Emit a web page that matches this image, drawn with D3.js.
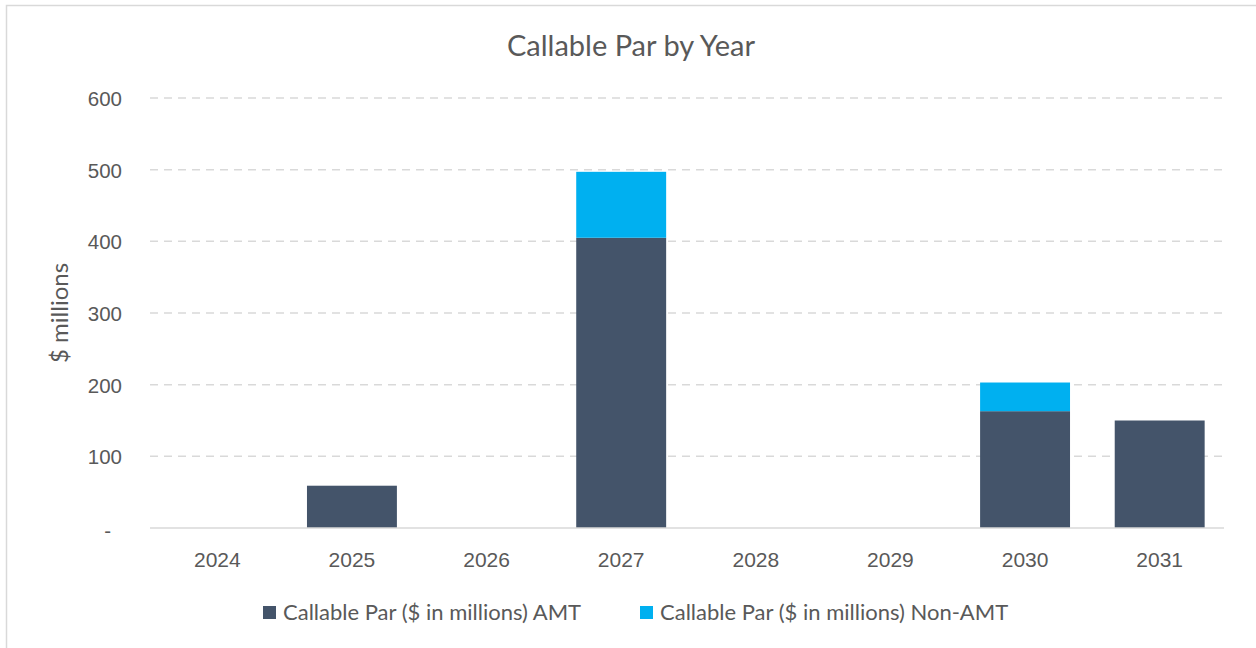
<!DOCTYPE html>
<html>
<head>
<meta charset="utf-8">
<script src="https://cdn.jsdelivr.net/npm/d3@7/dist/d3.min.js"></script>
<style>
  html, body { margin: 0; padding: 0; background: #fff; }
  svg { display: block; font-family: Lato, "Open Sans", sans-serif; }
</style>
</head>
<body>
<svg id="chart" width="1256" height="648"></svg>
<script>
// Callable par by year, split into AMT and Non-AMT ($ millions)
const years = ["2024", "2025", "2026", "2027", "2028", "2029", "2030", "2031"];
const amt = [0, 59, 0, 405, 0, 0, 163, 150];
const nonAmt = [0, 0, 0, 92, 0, 0, 40, 0];
const yTicks = [0, 100, 200, 300, 400, 500, 600];
const seriesNames = ["Callable Par ($ in millions) AMT", "Callable Par ($ in millions) Non-AMT"];
const seriesColors = ["#44546a", "#00b0f0"];

const svg = d3.select("#chart");
const textColor = "#595959";
const gridColor = "#d9d9d9";

// outer chart frame
svg.append("rect")
  .attr("x", 6.5).attr("y", 5.5)
  .attr("width", 1260).attr("height", 660)
  .attr("fill", "none").attr("stroke", gridColor).attr("stroke-width", 1.5);

const plot = { left: 150, right: 1227, gridRight: 1224, top: 98, bottom: 528 };

const x = d3.scaleBand().domain(years)
  .range([plot.left, plot.right])
  .paddingInner(0.332).paddingOuter(0.166);
const y = d3.scaleLinear().domain([0, 600]).range([plot.bottom, plot.top]);

// dashed gridlines
svg.append("g").selectAll("line")
  .data(yTicks.filter(d => d > 0))
  .join("line")
  .attr("x1", plot.left).attr("x2", plot.gridRight)
  .attr("y1", d => y(d)).attr("y2", d => y(d))
  .attr("stroke", gridColor).attr("stroke-width", 1.5)
  .attr("stroke-dasharray", "8,6");

// stacked bars
const rows = years.map((yr, i) => ({ year: yr, amt: amt[i], nonAmt: nonAmt[i] }));
const stack = d3.stack().keys(["amt", "nonAmt"])(rows);
svg.append("g").selectAll("g")
  .data(stack)
  .join("g")
  .attr("fill", (d, i) => seriesColors[i])
  .selectAll("rect")
  .data(d => d)
  .join("rect")
  .attr("x", d => x(d.data.year))
  .attr("width", x.bandwidth())
  .attr("y", d => y(d[1]))
  .attr("height", d => y(d[0]) - y(d[1]));

// baseline
svg.append("line")
  .attr("x1", plot.left).attr("x2", plot.gridRight)
  .attr("y1", y(0)).attr("y2", y(0))
  .attr("stroke", gridColor).attr("stroke-width", 1.5);

// y axis labels (zero shown as an accounting dash)
const yAxis = d3.axisLeft(y).tickValues(yTicks)
  .tickFormat(d => d === 0 ? "-" : d3.format("d")(d))
  .tickSize(0).tickPadding(0);
const yg = svg.append("g").attr("transform", "translate(122,0)").call(yAxis);
yg.select(".domain").remove();
yg.selectAll("text")
  .attr("fill", textColor).style("font-size", "20.5px")
  .attr("dy", "0.36em");
yg.selectAll(".tick").filter(d => d === 0).select("text")
  .attr("dx", "-11").attr("dy", "0.46em");

// x axis labels
const xAxis = d3.axisBottom(x).tickSize(0).tickPadding(0);
const xg = svg.append("g").attr("transform", `translate(0,${y(0)})`).call(xAxis);
xg.select(".domain").remove();
xg.selectAll("text")
  .attr("y", 39).attr("dy", 0)
  .attr("fill", textColor).style("font-size", "21px");

// title
svg.append("text")
  .attr("x", 631).attr("y", 56)
  .attr("text-anchor", "middle")
  .attr("fill", textColor).style("font-size", "29px")
  .text("Callable Par by Year");

// y axis title
svg.append("text")
  .attr("transform", "translate(68,313) rotate(-90)")
  .attr("text-anchor", "middle")
  .attr("fill", textColor).style("font-size", "24px")
  .text("$ millions");

// legend
const legendX = [263, 640];
const lg = svg.append("g").selectAll("g")
  .data(seriesNames)
  .join("g")
  .attr("transform", (d, i) => `translate(${legendX[i]},606)`);
lg.append("rect").attr("width", 13).attr("height", 13)
  .attr("fill", (d, i) => seriesColors[i]);
lg.append("text").attr("x", 20).attr("y", 14)
  .attr("fill", textColor).style("font-size", "22px")
  .text(d => d);
</script>
</body>
</html>
